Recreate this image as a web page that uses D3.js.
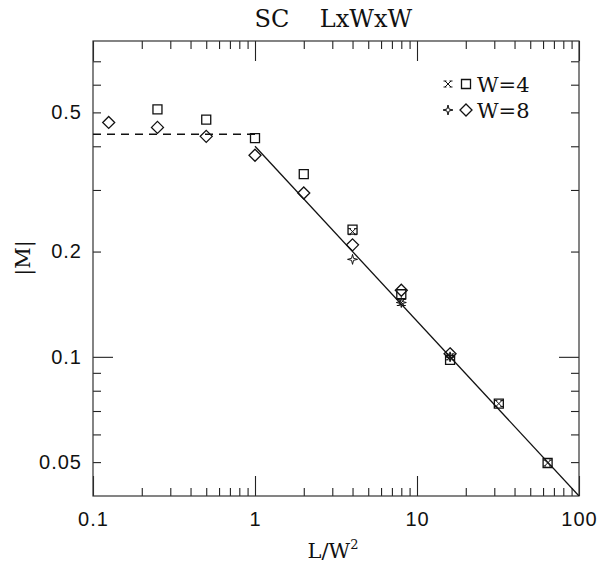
<!DOCTYPE html>
<html>
<head>
<meta charset="utf-8">
<script src="https://cdn.jsdelivr.net/npm/d3@7"></script>
<style>
  body { margin: 0; background: #fff; }
  .tick text { font-family: "Liberation Sans", Arial, sans-serif; font-size: 20px; letter-spacing: 1px; fill: #111; }
  .serif { font-family: "DejaVu Serif", "Liberation Serif", serif; fill: #111; }
</style>
</head>
<body>
<div id="chart"></div>
<script>
// data (x = L/W^2, y = |M|)
const w4SquareX = [0.25, 0.5, 1, 2, 4, 8, 16, 32, 64];
const w4SquareY = [0.51, 0.477, 0.422, 0.333, 0.231, 0.151, 0.098, 0.0735, 0.0497];
const w4CrossX = [4, 8, 16, 32, 64];
const w4CrossY = [0.228, 0.143, 0.100, 0.0735, 0.0497];
const w8DiamondX = [0.125, 0.25, 0.5, 1, 2, 4, 8, 16];
const w8DiamondY = [0.468, 0.453, 0.427, 0.377, 0.294, 0.209, 0.155, 0.102];
const w8StarX = [4, 8, 16];
const w8StarY = [0.190, 0.143, 0.100];

const fitX = [1, 100];
const fitY = [0.4, 0.04];
const plateauX = [0.1, 1];
const plateauY = [0.433, 0.433];

const xLabelTicks = [0.1, 1, 10, 100];
const xMinorTicks = [0.2, 0.3, 0.4, 0.5, 0.6, 0.7, 0.8, 0.9, 2, 3, 4, 5, 6, 7, 8, 9, 20, 30, 40, 50, 60, 70, 80, 90];
const yLabelTicks = [0.05, 0.1, 0.2, 0.5];
const yMajorTicks = [0.1];
const yMinorTicks = [0.05, 0.06, 0.07, 0.08, 0.09, 0.2, 0.3, 0.4, 0.5, 0.6, 0.7];

const legendRows = [
    {label: 'W=4', symbols: ['cross', 'square']},
    {label: 'W=8', symbols: ['star', 'diamond']}
];

const symbolPaths = {
    square: 'M-4.5,-4.5H4.5V4.5H-4.5Z',
    diamond: 'M0,-6L6,0L0,6L-6,0Z',
    cross: 'M-3,-3L3,3M-3,3L3,-3M-4.5,-3H-1.5M1.5,-3H4.5M-4.5,3H-1.5M1.5,3H4.5',
    star: 'M0,-5L1,-1L5,0L1,1L0,5L-1,1L-5,0L-1,-1Z'
};

class ChartImpl {
    constructor(node) {
        this.node = node;
        this.width = 598;
        this.height = 565;
        this.plot = {left: 93, right: 579, top: 41, bottom: 496};
        this.init();
        this.render();
    }

    init() {
        this.svg = d3.select(this.node).append('svg')
            .attr('width', this.width)
            .attr('height', this.height);

        this.x = d3.scaleLog().domain([0.1, 100]).range([this.plot.left, this.plot.right]);
        this.y = d3.scaleLog().domain([0.04, 0.8]).range([this.plot.bottom, this.plot.top]);
    }

    drawAxes() {
        const p = this.plot, svg = this.svg;
        const h = p.bottom - p.top, w = p.right - p.left;

        const addAxis = (axis, tx, ty) => {
            const g = svg.append('g')
                .attr('transform', 'translate(' + [tx, ty] + ')')
                .call(axis);
            g.select('.domain').remove();
            g.selectAll('.tick line').attr('stroke', '#222').attr('stroke-width', 1.1);
            return g;
        };

        // bottom / top
        addAxis(d3.axisBottom(this.x).tickValues(xLabelTicks).tickSizeInner(-20).tickSizeOuter(0)
            .tickPadding(16).tickFormat(d3.format('')), 0, p.bottom);
        addAxis(d3.axisBottom(this.x).tickValues(xMinorTicks).tickSizeInner(-8).tickSizeOuter(0).tickFormat(''), 0, p.bottom);
        addAxis(d3.axisTop(this.x).tickValues(xLabelTicks).tickSizeInner(-20).tickSizeOuter(0).tickFormat(''), 0, p.top);
        addAxis(d3.axisTop(this.x).tickValues(xMinorTicks).tickSizeInner(-8).tickSizeOuter(0).tickFormat(''), 0, p.top);

        // left / right
        addAxis(d3.axisLeft(this.y).tickValues(yLabelTicks).tickSizeInner(0).tickSizeOuter(0)
            .tickPadding(11).tickFormat(d3.format('')), p.left, 0);
        addAxis(d3.axisLeft(this.y).tickValues(yMajorTicks).tickSizeInner(-20).tickSizeOuter(0).tickFormat(''), p.left, 0);
        addAxis(d3.axisLeft(this.y).tickValues(yMinorTicks).tickSizeInner(-8).tickSizeOuter(0).tickFormat(''), p.left, 0);
        addAxis(d3.axisRight(this.y).tickValues(yMajorTicks).tickSizeInner(-20).tickSizeOuter(0).tickFormat(''), p.right, 0);
        addAxis(d3.axisRight(this.y).tickValues(yMinorTicks).tickSizeInner(-8).tickSizeOuter(0).tickFormat(''), p.right, 0);

        svg.selectAll('.tick text').attr('font-family', null).attr('font-size', null);

        svg.append('rect')
            .attr('x', p.left).attr('y', p.top)
            .attr('width', w).attr('height', h)
            .attr('fill', 'none').attr('stroke', '#333').attr('stroke-width', 1.2);
    }

    drawLines() {
        const line = d3.line().x(d => this.x(d[0])).y(d => this.y(d[1]));
        this.svg.append('clipPath').attr('id', 'plotclip').append('rect')
            .attr('x', this.plot.left).attr('y', this.plot.top)
            .attr('width', this.plot.right - this.plot.left).attr('height', this.plot.bottom - this.plot.top);

        this.svg.append('path')
            .datum(d3.zip(fitX, fitY))
            .attr('d', line)
            .attr('clip-path', 'url(#plotclip)')
            .attr('fill', 'none').attr('stroke', '#111').attr('stroke-width', 1.3);

        this.svg.append('path')
            .datum(d3.zip(plateauX, plateauY))
            .attr('d', line)
            .attr('fill', 'none').attr('stroke', '#111').attr('stroke-width', 1.3)
            .attr('stroke-dasharray', '8,6');
    }

    drawSeries(xs, ys, symbol) {
        this.svg.append('g').selectAll('path')
            .data(d3.zip(xs, ys))
            .join('path')
            .attr('transform', d => 'translate(' + [this.x(d[0]), this.y(d[1])] + ')')
            .attr('d', symbolPaths[symbol])
            .attr('fill', 'none').attr('stroke', '#111')
            .attr('stroke-width', symbol === 'cross' || symbol === 'star' ? 1 : 1.3);
    }

    drawText() {
        const svg = this.svg;
        svg.append('text').attr('class', 'serif')
            .attr('x', 272).attr('y', 27).attr('text-anchor', 'middle')
            .attr('font-size', 24).text('SC');
        svg.append('text').attr('class', 'serif')
            .attr('x', 366).attr('y', 27).attr('text-anchor', 'middle')
            .attr('font-size', 24).text('LxWxW');

        const xl = svg.append('text').attr('class', 'serif')
            .attr('x', 333).attr('y', 558).attr('text-anchor', 'middle')
            .attr('font-size', 21);
        xl.append('tspan').text('L/W');
        xl.append('tspan').attr('dy', -9).attr('font-size', 13).text('2');

        svg.append('text').attr('class', 'serif')
            .attr('transform', 'translate(30,258) rotate(-90)')
            .attr('text-anchor', 'middle')
            .attr('font-size', 21).text('|M|');

        // legend
        legendRows.forEach((row, i) => {
            const cy = 84 + i * 26;
            row.symbols.forEach((s, j) => {
                svg.append('path')
                    .attr('transform', 'translate(' + [448 + j * 18, cy] + ')')
                    .attr('d', symbolPaths[s])
                    .attr('fill', 'none').attr('stroke', '#111')
                    .attr('stroke-width', j === 0 ? 1 : 1.3);
            });
            svg.append('text').attr('class', 'serif')
                .attr('x', 477).attr('y', cy + 8)
                .attr('font-size', 21).text(row.label);
        });
    }

    render() {
        this.drawAxes();
        this.drawLines();
        this.drawSeries(w4SquareX, w4SquareY, 'square');
        this.drawSeries(w4CrossX, w4CrossY, 'cross');
        this.drawSeries(w8DiamondX, w8DiamondY, 'diamond');
        this.drawSeries(w8StarX, w8StarY, 'star');
        this.drawText();
    }
}

new ChartImpl(document.getElementById('chart'));
</script>
</body>
</html>
